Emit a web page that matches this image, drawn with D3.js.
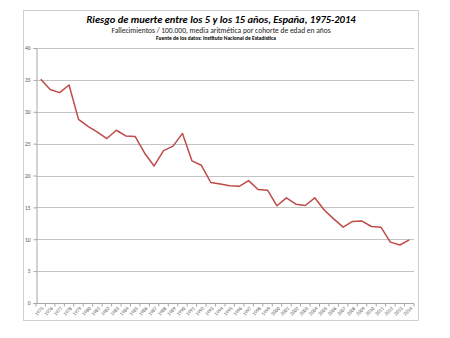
<!DOCTYPE html>
<html>
<head>
<meta charset="utf-8">
<script src="https://cdn.jsdelivr.net/npm/d3@7"></script>
<style>
  html, body { margin: 0; padding: 0; background: #fff; }
  svg { display: block; }
</style>
</head>
<body>
<svg id="chart" width="450" height="338"></svg>
<script>
// Deaths per 100,000 children aged 5-15, Spain, by year
const years = d3.range(1975, 2015).map(String);
const riesgo = [
  35.1, 33.5, 33.0, 34.2, 28.8, 27.7, 26.8, 25.8, 27.1, 26.2,
  26.1, 23.5, 21.5, 23.9, 24.6, 26.6, 22.3, 21.6, 18.9, 18.65,
  18.4, 18.3, 19.2, 17.8, 17.7, 15.25, 16.5, 15.5, 15.3, 16.5,
  14.6, 13.2, 11.9, 12.8, 12.85, 12.0, 11.9, 9.55, 9.1, 9.9
];
const yTicks = [0, 5, 10, 15, 20, 25, 30, 35, 40];

const title = "Riesgo de muerte entre los 5 y los 15 años, España, 1975-2014";
const subtitle = "Fallecimientos / 100.000, media aritmética por cohorte de edad en años";
const fuente = "Fuente de los datos: Instituto Nacional de Estadística";

const svg = d3.select("#chart");
const font = "Carlito, 'Open Sans', 'Liberation Sans', sans-serif";

// chart frame
svg.append("rect")
  .attr("x", 23.5).attr("y", 10.5)
  .attr("width", 395).attr("height", 310)
  .attr("fill", "#fff").attr("stroke", "#d0d0d0").attr("stroke-width", 1);

const plot = { left: 36, right: 414, top: 48, bottom: 303 };

const x = d3.scaleBand().domain(years).range([plot.left, plot.right]);
const y = d3.scaleLinear().domain([0, 40]).range([plot.bottom, plot.top]);

// horizontal gridlines
svg.append("g")
  .selectAll("line")
  .data(yTicks.filter(d => d > 0))
  .join("line")
  .attr("x1", plot.left).attr("x2", plot.right)
  .attr("y1", d => Math.round(y(d)) + 0.5).attr("y2", d => Math.round(y(d)) + 0.5)
  .attr("stroke", "#c4c4c4").attr("stroke-width", 1);

// y axis
const yAxis = svg.append("g")
  .attr("transform", `translate(${plot.left + 0.5},0)`)
  .call(d3.axisLeft(y).tickValues(yTicks).tickSize(3).tickPadding(3)
    .tickFormat(d3.format("d")));
yAxis.select(".domain").attr("stroke", "#a6a6a6");
yAxis.selectAll(".tick line").attr("stroke", "#a6a6a6");
yAxis.selectAll(".tick text")
  .attr("fill", "#595959").style("font-family", font).style("font-size", "5.5px");

// x axis with category-boundary ticks
const xAxisG = svg.append("g")
  .attr("transform", `translate(0,${plot.bottom + 0.5})`);
xAxisG.append("line")
  .attr("x1", plot.left).attr("x2", plot.right)
  .attr("stroke", "#a6a6a6");
xAxisG.selectAll("line.tk")
  .data(years.concat(["end"]))
  .join("line").attr("class", "tk")
  .attr("x1", (d, i) => plot.left + i * x.step())
  .attr("x2", (d, i) => plot.left + i * x.step())
  .attr("y1", 0).attr("y2", 3)
  .attr("stroke", "#a6a6a6");
xAxisG.selectAll("text")
  .data(years)
  .join("text")
  .attr("transform", d => `translate(${x(d) + x.bandwidth() / 2 + 2},4) rotate(-45)`)
  .attr("text-anchor", "end")
  .attr("dy", "0.35em")
  .attr("fill", "#595959")
  .style("font-family", font).style("font-size", "5px")
  .text(d => d);

// data line
const line = d3.line()
  .x((d, i) => x(years[i]) + x.bandwidth() / 2)
  .y(d => y(d));
svg.append("path")
  .datum(riesgo)
  .attr("d", line)
  .attr("fill", "none")
  .attr("stroke", "#be4b48")
  .attr("stroke-width", 1.5)
  .attr("stroke-linejoin", "round");

// titles
svg.append("text")
  .attr("x", 221).attr("y", 23)
  .attr("text-anchor", "middle")
  .style("font-family", font).style("font-size", "10.5px")
  .style("font-weight", "bold").style("font-style", "italic")
  .attr("fill", "#000")
  .text(title);
svg.append("text")
  .attr("x", 221).attr("y", 32.5)
  .attr("text-anchor", "middle")
  .style("font-family", font).style("font-size", "7.5px")
  .attr("fill", "#222")
  .text(subtitle);
svg.append("text")
  .attr("x", 216).attr("y", 40)
  .attr("text-anchor", "middle")
  .style("font-family", font).style("font-size", "5.5px")
  .style("font-weight", "bold")
  .attr("fill", "#000")
  .text(fuente);
</script>
</body>
</html>
